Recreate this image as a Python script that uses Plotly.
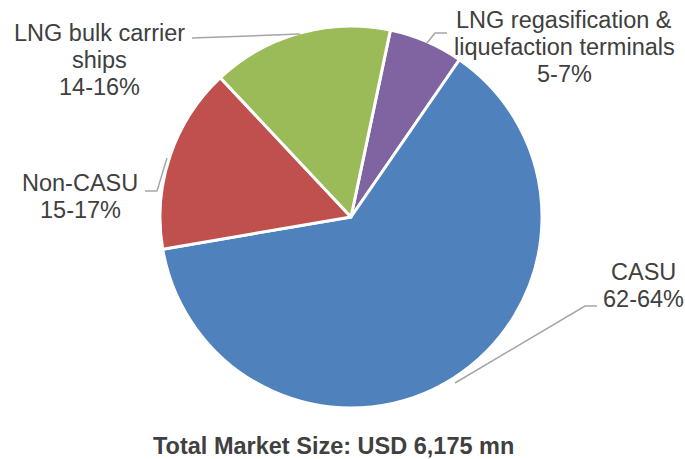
import plotly.graph_objects as go

# segment shares (%), clockwise from the purple one
segments = ["LNG regasification & liquefaction terminals", "CASU", "Non-CASU", "LNG bulk carrier ships"]
shares = [6.3, 62.7, 15.7, 15.3]
share_labels = ["5-7%", "62-64%", "15-17%", "14-16%"]
label_lines = [["LNG regasification &", "liquefaction terminals"], ["CASU"], ["Non-CASU"], ["LNG bulk carrier", "ships"]]
colors = ["#8064A2", "#4F81BD", "#C0504D", "#9BBB59"]
title_text = "Total Market Size: USD 6,175 mn"

W, H = 685, 459
FONT = "Liberation Sans, Arial, sans-serif"
TXT = "#404040"
LINE_H = 27


def px(x, y):
    # pixel position -> paper coords
    return x / W, 1 - y / H


# where each label block is centred and its leader line (pixels)
label_pos = [(564, 47), (643, 285), (80, 196), (100, 60)]
leaders = [
    [(427, 43), (435, 33), (447, 33)],
    [(455, 383), (585, 306), (597, 306)],
    [(167, 158), (157, 191), (145, 191)],
    [(300, 34), (192, 38)],
]

fig = go.Figure(go.Pie(
    labels=segments,
    values=shares,
    sort=False,
    direction="clockwise",
    rotation=11.9,
    textinfo="none",
    hoverinfo="label+percent",
    marker=dict(colors=colors, line=dict(color="white", width=3)),
    domain=dict(x=[160 / W, 542 / W], y=[px(0, 408)[1], px(0, 26)[1]]),
    showlegend=False,
))

annotations = []
for lines, share, (x, y) in zip(label_lines, share_labels, label_pos):
    rows = lines + [share]
    n = len(rows)
    for i, row in enumerate(rows):
        ax_, ay_ = px(x, y + (i - (n - 1) / 2) * LINE_H)
        annotations.append(dict(
            x=ax_, y=ay_, xref="paper", yref="paper",
            text=row, showarrow=False,
            xanchor="center", yanchor="middle", align="center",
            font=dict(family=FONT, size=23.5, color=TXT),
        ))

tx, ty = px(333, 446)
annotations.append(dict(
    x=tx, y=ty, xref="paper", yref="paper", text=f"<b>{title_text}</b>",
    showarrow=False, xanchor="center", yanchor="middle",
    font=dict(family=FONT, size=23.5, color=TXT),
))

shapes = []
for pts in leaders:
    path = ""
    for i, (x, y) in enumerate(pts):
        a, b = px(x, y)
        path += ("M" if i == 0 else "L") + f"{a},{b} "
    shapes.append(dict(type="path", path=path.strip(), xref="paper", yref="paper",
                       line=dict(color="#A6A6A6", width=1.5)))

fig.update_layout(
    width=W, height=H,
    margin=dict(l=0, r=0, t=0, b=0),
    paper_bgcolor="white", plot_bgcolor="white",
    annotations=annotations,
    shapes=shapes,
)

# drop the default 8px body margin so the figure fills the window
fig.write_html("out.html", config={"displayModeBar": False},
               post_script="document.body.style.margin='0';")
